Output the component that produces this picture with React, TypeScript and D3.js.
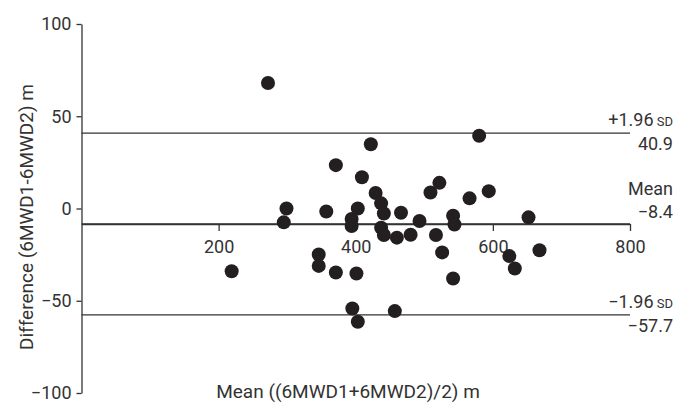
import { useEffect, useRef } from "react";
import * as d3 from "d3";

// mean of the two walks (m) and their difference (m), one entry per patient
const meanWalk = [
  272, 219, 299, 295, 357, 371, 422, 409, 403, 429, 437, 441, 466, 493, 509, 522, 394, 394, 437, 441, 460,
  480, 517, 526, 542, 542, 544, 580, 566, 594, 652, 624, 632, 668, 346, 346, 371, 401, 395, 403, 457
];
const diffWalk = [
  68, -34, 0, -7.5, -1.6, 23.5, 34.8, 16.9, 0, 8.4, 2.8, -2.7, -2.3, -6.8, 8.7, 13.9, -5.7, -9.5, -10.4,
  -14.4, -15.8, -14.2, -14.4, -23.8, -37.9, -3.9, -8.7, 39.4, 5.5, 9.4, -4.8, -25.8, -32.5, -22.6, -24.9,
  -31.1, -34.7, -35.2, -54.2, -61.4, -55.6
];

const xTicks = [200, 400, 600, 800];
const yTicks = [-100, -50, 0, 50, 100];

// limits of agreement
const refLines = [
  { value: 40.9, top: "+1.96", topSmall: "SD", bottom: "40.9" },
  { value: -8.4, top: "Mean", topSmall: "", bottom: "\u22128.4" },
  { value: -57.7, top: "\u22121.96", topSmall: "SD", bottom: "\u221257.7" }
];
const meanValue = -8.4;

const xTitle = "Mean ((6MWD1+6MWD2)/2) m";
const yTitle = "Difference (6MWD1-6MWD2) m";

export default function App() {
  const svgRef = useRef<SVGSVGElement>(null);

  useEffect(() => {
    const svg = d3.select(svgRef.current);
    svg.selectAll("*").remove();

    const width = 689;
    const height = 404;
    const font = "Roboto, sans-serif";
    const ink = "#333";

    const x = d3.scaleLinear().domain([0, 800]).range([81.5, 630]);
    const y = d3.scaleLinear().domain([-100, 100]).range([393, 24]);

    svg.attr("width", width).attr("height", height);

    // reference lines
    svg
      .append("g")
      .selectAll("line")
      .data(refLines)
      .join("line")
      .attr("x1", x(0))
      .attr("x2", x(800))
      .attr("y1", (d) => y(d.value))
      .attr("y2", (d) => y(d.value))
      .attr("stroke", ink)
      .attr("stroke-width", 1.3);

    // x axis sits on the mean line
    const xAxis = svg
      .append("g")
      .attr("transform", `translate(0,${y(meanValue)})`)
      .call(d3.axisBottom(x).tickValues(xTicks).tickSize(7).tickSizeOuter(0).tickPadding(9));
    xAxis.select(".domain").attr("stroke", ink).attr("stroke-width", 1.3);
    xAxis.selectAll(".tick line").attr("stroke", ink).attr("stroke-width", 1.3);
    xAxis
      .selectAll("text")
      .attr("fill", ink)
      .style("font-family", font)
      .style("font-size", "18px");

    const yAxis = svg
      .append("g")
      .attr("transform", `translate(${x(0)},0)`)
      .call(d3.axisLeft(y).tickValues(yTicks).tickSize(5).tickSizeOuter(0).tickPadding(5));
    yAxis.select(".domain").attr("stroke", ink).attr("stroke-width", 1.3);
    yAxis.selectAll(".tick line").attr("stroke", ink).attr("stroke-width", 1.3);
    yAxis
      .selectAll("text")
      .attr("fill", ink)
      .style("font-family", font)
      .style("font-size", "18px");

    // points
    svg
      .append("g")
      .selectAll("circle")
      .data(meanWalk.map((m, i) => [m, diffWalk[i]]))
      .join("circle")
      .attr("cx", (d) => x(d[0]))
      .attr("cy", (d) => y(d[1]))
      .attr("r", 7)
      .attr("fill", "#231f20");

    // labels on the right
    const labels = svg
      .append("g")
      .attr("text-anchor", "end")
      .attr("fill", ink)
      .style("font-family", font)
      .style("font-size", "18px");
    refLines.forEach((d) => {
      const isMean = d.topSmall === "";
      const top = labels
        .append("text")
        .attr("x", 673)
        .attr("y", y(d.value) + (isMean ? -29 : -7))
        .text(d.top);
      if (!isMean) {
        top.append("tspan").style("font-size", "13px").text(" " + d.topSmall);
      }
      labels
        .append("text")
        .attr("x", 673)
        .attr("y", y(d.value) + (isMean ? -6 : 17))
        .text(d.bottom);
    });

    // axis titles
    svg
      .append("text")
      .attr("x", 348)
      .attr("y", 398)
      .attr("text-anchor", "middle")
      .attr("fill", ink)
      .style("font-family", font)
      .style("font-size", "19px")
      .text(xTitle);

    svg
      .append("text")
      .attr("transform", "translate(33,217) rotate(-90)")
      .attr("text-anchor", "middle")
      .attr("fill", ink)
      .style("font-family", font)
      .style("font-size", "19px")
      .text(yTitle);
  }, []);

  return <svg ref={svgRef} style={{ position: "absolute", left: 0, top: 0, background: "#fff" }} />;
}
